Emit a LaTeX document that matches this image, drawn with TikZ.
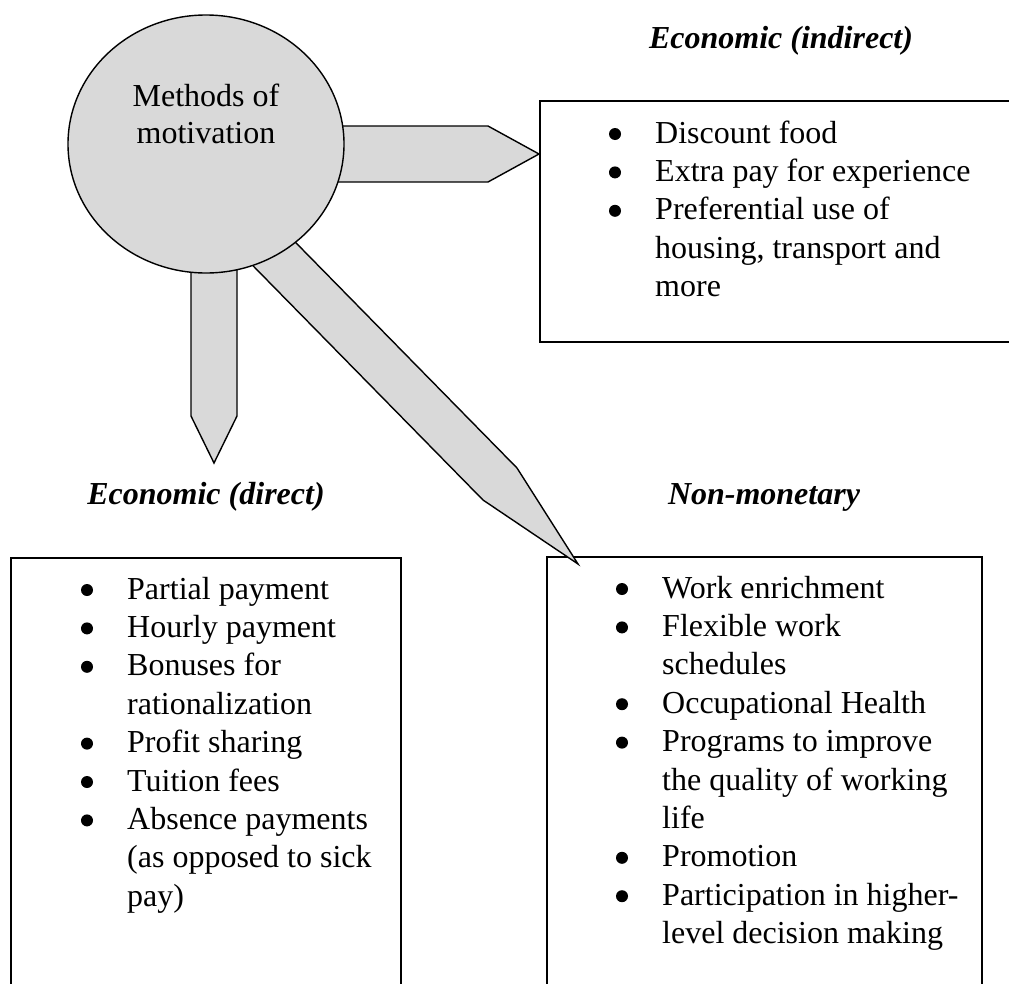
\documentclass[tikz,border=0pt]{standalone}
\usepackage{fontspec}
\setmainfont{Liberation Serif}
\usetikzlibrary{shapes.geometric}
\definecolor{fillgray}{RGB}{217,217,217}
\tikzset{
  hubstyle/.style={ellipse, draw=black, line width=1.4pt, fill=fillgray, minimum width=276pt, minimum height=258pt, inner sep=0pt},
  listbox/.style={rectangle, draw=black, line width=1.6pt, inner sep=0pt},
  blockarrow/.style={draw=black, fill=fillgray, line width=1.4pt, line join=miter},
  bulletdot/.style={fill=black},
  hubtext/.style={anchor=base, inner sep=0pt, font=\fontsize{32}{37}\selectfont},
  headtext/.style={anchor=base, inner sep=0pt, font=\fontsize{32}{38}\selectfont\bfseries\itshape},
  itemtext/.style={anchor=base west, inner sep=0pt, font=\fontsize{32}{38}\selectfont},
}
\newcommand\itemlines[4]{%
  \foreach \b/\t [count=\i] in {#4}{%
    \node[itemtext] (#3\i) at (#1,{#2+38.4*(\i-1)}) {\t};
    \ifnum\b=1 \fill[bulletdot] ({#1-40},{#2+38.4*(\i-1)-9}) circle (6pt);\fi
  }}
\begin{document}
\begin{tikzpicture}[x=1pt,y=-1pt]
\useasboundingbox (0,0) rectangle (1009,983);
\clip (0,0) rectangle (1009,983);

% boxes
\node[listbox, minimum width=482pt, minimum height=241pt] (indbox) at (781,221.5) {};
\node[listbox, minimum width=390pt, minimum height=452pt] (dirbox) at (206,784) {};
\node[listbox, minimum width=435pt, minimum height=453pt] (nonbox) at (764.5,783.5) {};

% block arrows
\draw[blockarrow] (300,126) -- (488,126) -- (539,154) -- (488,182) -- (300,182) -- cycle;
\draw[blockarrow] (191,250) -- (191,416) -- (214,463) -- (237,416) -- (237,250) -- cycle;
\draw[blockarrow] (250,196) -- (517,468) -- (578,564) -- (483,500) -- (214,226) -- cycle;

% hub
\node[hubstyle] (hub) at (206,144) {};
\node[hubtext] (hubA) at (206,106) {Methods of};
\node[hubtext] (hubB) at (206,143) {motivation};

% headings
\node[headtext] (indhead) at (781,48) {Economic (indirect)};
\node[headtext] (dirhead) at (206,504) {Economic (direct)};
\node[headtext] (nonhead) at (764,504) {Non-monetary};

% lists
\itemlines{655}{143}{ind}{1/Discount food, 1/Extra pay for experience, 1/Preferential use of, 0/{housing, transport and}, 0/more}
\itemlines{127}{599}{dir}{1/Partial payment, 1/Hourly payment, 1/Bonuses for, 0/rationalization, 1/Profit sharing, 1/Tuition fees, 1/Absence payments, 0/{(as opposed to sick}, 0/{pay)}}
\itemlines{662}{598}{non}{1/Work enrichment, 1/Flexible work, 0/schedules, 1/Occupational Health, 1/Programs to improve, 0/the quality of working, 0/life, 1/Promotion, 1/Participation in higher-, 0/level decision making}
\end{tikzpicture}
\end{document}
